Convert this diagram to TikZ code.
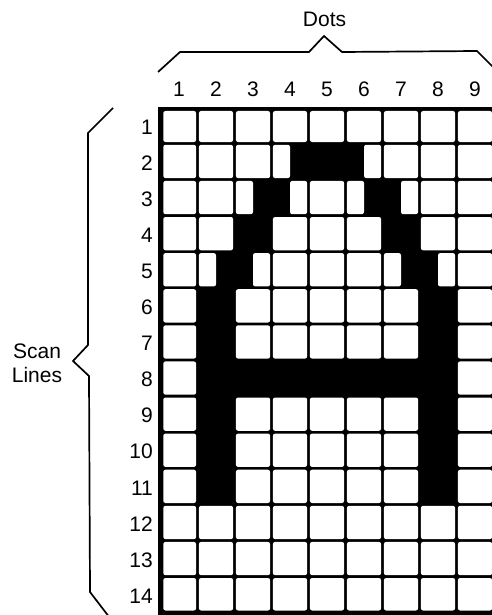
\documentclass[tikz,border=0pt]{standalone}
\usepackage{fontspec}
\setmainfont{Liberation Sans}
\begin{document}
\begin{tikzpicture}[x=1pt,y=-1pt,
  cellw/.style={fill=white,rounded corners=2.2pt},
  lab/.style={font=\fontsize{21}{21}\selectfont,inner sep=0pt},
  bracel/.style={line width=1.7pt,line join=miter,line cap=butt}]
\useasboundingbox (0,0) rectangle (492,615);
\clip (0,0) rectangle (492,615);
% black grid background
\fill[black] (158.3,106.7) rectangle (496,615.5);
\foreach \r/\row in {
  1/{W,W,W,W,W,W,W,W,W},
  2/{W,W,W,L,B,R,W,W,W},
  3/{W,W,L,R,W,L,R,W,W},
  4/{W,W,B,W,W,W,B,W,W},
  5/{W,L,R,W,W,W,L,R,W},
  6/{W,B,W,W,W,W,W,B,W},
  7/{W,B,W,W,W,W,W,B,W},
  8/{W,B,B,B,B,B,B,B,W},
  9/{W,B,W,W,W,W,W,B,W},
  10/{W,B,W,W,W,W,W,B,W},
  11/{W,B,W,W,W,W,W,B,W},
  12/{W,W,W,W,W,W,W,W,W},
  13/{W,W,W,W,W,W,W,W,W},
  14/{W,W,W,W,W,W,W,W,W}}{
  \foreach \ty [count=\c] in \row {
    \pgfmathsetmacro\xa{160.5+37*(\c-1)+(\c==1?2.8:1.4)}
    \pgfmathsetmacro\xb{160.5+37*\c-1.4}
    \pgfmathsetmacro\xm{160.5+37*(\c-0.5)}
    \pgfmathsetmacro\ya{107.3+36.1*(\r-1)+(\r==1?3.7:1.4)}
    \pgfmathsetmacro\yb{107.3+36.1*\r-(\r==14?2.2:1.4)}
    \if\ty W\fill[cellw] (\xa,\ya) rectangle (\xb,\yb);\fi
    \if\ty L\fill[cellw] (\xa,\ya) rectangle (\xm,\yb);\fi
    \if\ty R\fill[cellw] (\xm,\ya) rectangle (\xb,\yb);\fi
  }
}
% column labels
\foreach \c in {1,...,9}
  \node[lab] (col\c) at ({160.5+37*(\c-0.5)},89) {\c};
% row labels
\foreach \r in {1,...,14}
  \node[lab,anchor=east] (row\r) at (153,{107.3+36.1*(\r-0.5)+1.5}) {\r};
% titles
\node[lab] (dots) at (324.5,19) {Dots};
\node[lab] (scan) at (37,351) {Scan};
\node[lab] (lines) at (37,375) {Lines};
% braces
\draw[bracel] (158,72) -- (180,52) -- (309,52) -- (324,36) -- (342,52) -- (477,51) -- (494,68);
\draw[bracel] (113,108) -- (88,133) -- (88,345) -- (73,361) -- (89,376) -- (90,592) -- (113,622);
\end{tikzpicture}
\end{document}
